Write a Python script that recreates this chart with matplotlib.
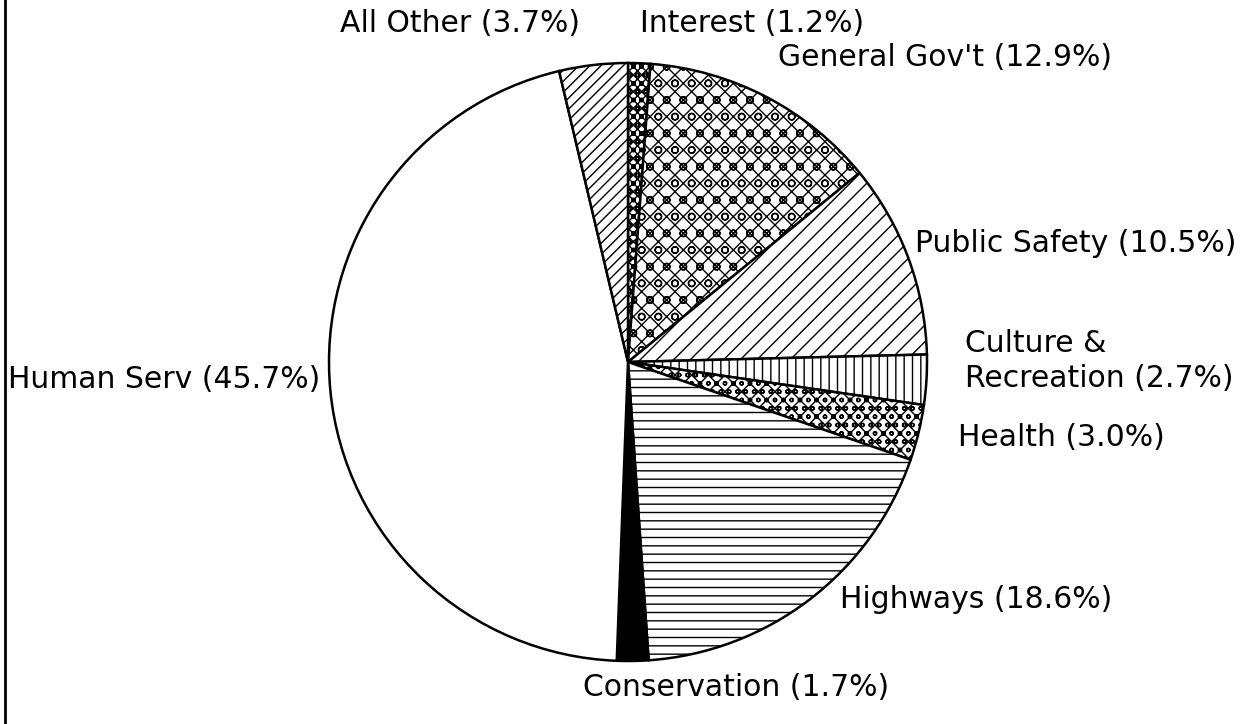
import matplotlib
matplotlib.use('Agg')
import matplotlib.pyplot as plt

# slices, clockwise from the top
categories = ['Interest', "General Gov't", 'Public Safety', 'Culture &\nRecreation',
              'Health', 'Highways', 'Conservation', 'Human Serv', 'All Other']
shares = [1.2, 12.9, 10.5, 2.7, 3.0, 18.6, 1.7, 45.7, 3.7]

hatches = ['xxxxoo', 'xxo', '//', '||', 'xxoo', '--', '', '', '///']
fills = ['white', 'white', 'white', 'white', 'white', 'white', 'black', 'white', 'white']

# label anchor points (pixels, from top-left)
label_pos = [(640, 24), (778, 57), (915, 243), (965, 361),
             (958, 438), (840, 600), (583, 687), (8, 380), (340, 24)]

plt.rcParams['hatch.linewidth'] = 1.0
W, H = 1245, 724
fig = plt.figure(figsize=(W / 100, H / 100), dpi=100)
ax = fig.add_axes([0, 0, 1, 1])

wedges, _ = ax.pie(shares, startangle=90, counterclock=False, center=(628, H - 362),
                   radius=299, colors=fills, frame=True,
                   wedgeprops=dict(edgecolor='black', linewidth=1.8))
for w, h in zip(wedges, hatches):
    w.set_hatch(h)
ax.set_xlim(0, W)
ax.set_ylim(0, H)
ax.set_aspect('equal')
ax.axis('off')

for name, val, (x, y) in zip(categories, shares, label_pos):
    ax.text(x, H - y, f'{name} ({val:.1f}%)', ha='left', va='center', fontsize=21.5,
            linespacing=1.25, color='black')

# left border line
ax.plot([5, 5], [0, H], color='black', lw=2)

fig.savefig('out.png', dpi=100, facecolor='white')
